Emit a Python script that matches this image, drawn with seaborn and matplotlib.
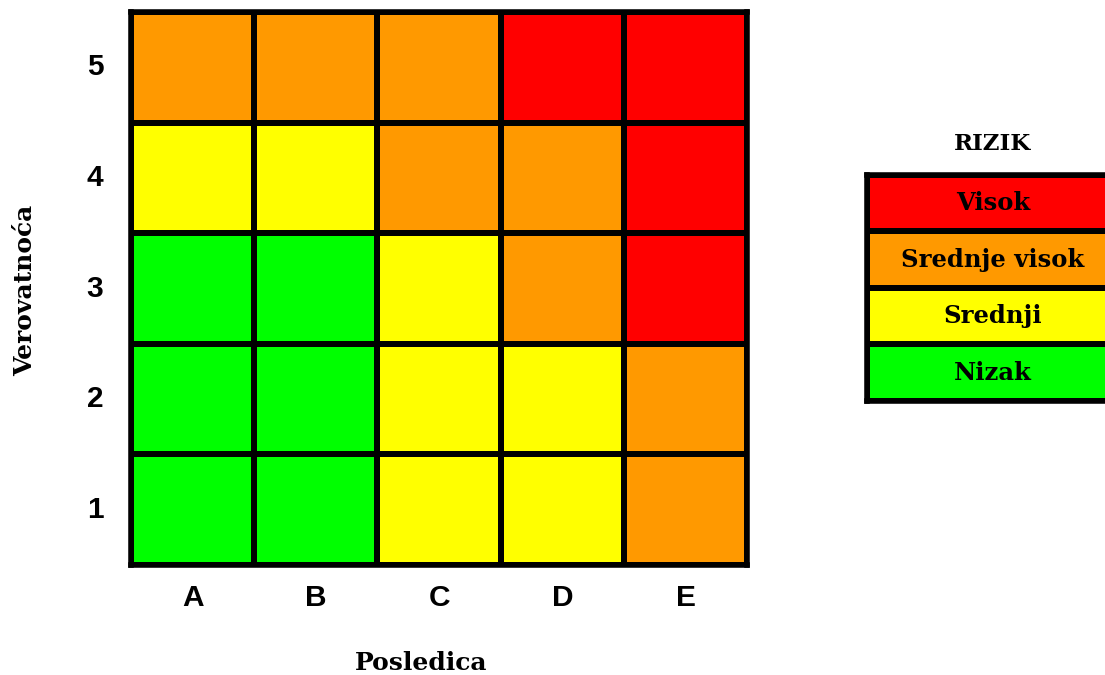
import numpy as np
import seaborn as sns
import matplotlib.pyplot as plt
from matplotlib.colors import ListedColormap

# risk levels: 0 Nizak, 1 Srednji, 2 Srednje visok, 3 Visok
consequence = ['A', 'B', 'C', 'D', 'E']
likelihood = ['5', '4', '3', '2', '1']
risk = [[2, 2, 2, 3, 3],
        [1, 1, 2, 2, 3],
        [0, 0, 1, 2, 3],
        [0, 0, 1, 1, 2],
        [0, 0, 1, 1, 2]]
levels = ['Nizak', 'Srednji', 'Srednje visok', 'Visok']
colors = ['#00ff00', '#ffff00', '#ff9900', '#ff0000']

sns.set_style('white')
plt.rcParams['text.color'] = 'black'
plt.rcParams['xtick.color'] = 'black'
plt.rcParams['ytick.color'] = 'black'
plt.rcParams['axes.labelcolor'] = 'black'
cmap = ListedColormap(colors)

fig = plt.figure(figsize=(11.05, 6.75), dpi=100)
ax = fig.add_axes([0.1186, 0.163, 0.5575, 0.819])
sns.heatmap(np.array(risk), cmap=cmap, vmin=-0.5, vmax=3.5, cbar=False,
            linewidths=4, linecolor='black',
            xticklabels=consequence, yticklabels=likelihood, ax=ax)
for s in ax.spines.values():
    s.set_visible(True)
    s.set_linewidth(4)
    s.set_color('black')
ax.tick_params(length=0, labelsize=21.5, pad=14)
ax.tick_params(axis='y', pad=20)
plt.setp(ax.get_xticklabels(), fontweight='bold', family='Liberation Sans')
plt.setp(ax.get_yticklabels(), fontweight='bold', family='Liberation Sans',
         rotation=0)
ax.set_xlabel('Posledica', fontsize=18, fontweight='bold', family='DejaVu Serif')
ax.set_ylabel('Verovatnoća', fontsize=18, fontweight='bold', family='DejaVu Serif')
ax.xaxis.set_label_coords(0.471, -0.155)
ax.yaxis.set_label_coords(-0.153, 0.497)

# legend as a one-column heatmap
lax = fig.add_axes([0.7846, 0.406, 0.228, 0.335])
leg_vals = np.array([[3], [2], [1], [0]])
leg_txt = np.array([[levels[3]], [levels[2]], [levels[1]], [levels[0]]])
sns.heatmap(leg_vals, cmap=cmap, vmin=-0.5, vmax=3.5, cbar=False,
            linewidths=4, linecolor='black', annot=leg_txt, fmt='',
            annot_kws={'fontsize': 17.5, 'fontweight': 'bold',
                       'family': 'DejaVu Serif', 'color': 'black'},
            xticklabels=False, yticklabels=False, ax=lax)
for s in lax.spines.values():
    s.set_visible(True)
    s.set_linewidth(4)
    s.set_color('black')
lax.set_title('RIZIK', fontsize=16.5, fontweight='bold', family='DejaVu Serif',
              pad=18)

plt.savefig('out.png', dpi=100)
